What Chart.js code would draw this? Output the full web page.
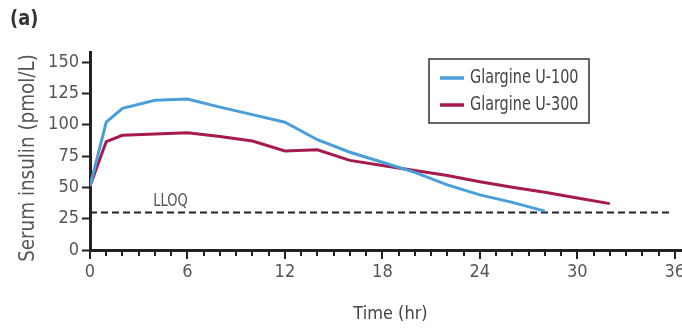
<!DOCTYPE html>
<html lang="en">
<head>
  <meta charset="UTF-8" />
  <title>Serum insulin</title>
  <style>
    body { margin: 0; background: #fff; overflow: hidden; }
  </style>
</head>
<body>
  <canvas id="chart" width="700" height="332"></canvas>

  <script src="https://cdn.jsdelivr.net/npm/chart.js"></script>
  <script>
    // data
    const u100Hours  = [0, 1, 2, 4, 6, 8, 10, 12, 14, 16, 18, 20, 22, 24, 26, 28];
    const u100Values = [51, 102, 113, 119.5, 120.5, 114, 108, 102, 88, 78, 70, 62, 52, 44, 38, 31];
    const u300Hours  = [0, 1, 2, 4, 6, 8, 10, 12, 14, 16, 18, 20, 22, 24, 26, 28, 30, 32];
    const u300Values = [51, 86.5, 91.5, 92.5, 93.5, 90.5, 87, 79, 80, 71.5, 67.5, 63.5, 59.5, 54.5, 50, 46, 41.5, 37];
    const lloqHours  = [0, 35.7];
    const lloqValue  = 30;
    const xTicks = [0, 6, 12, 18, 24, 30, 36];
    const yTicks = [0, 25, 50, 75, 100, 125, 150];

    const FONT = "'Liberation Sans Narrow', 'DejaVu Sans Condensed', sans-serif";
    Chart.defaults.font.family = FONT;
    Chart.defaults.color = '#555';

    const toPoints = (xs, ys) => xs.map((x, i) => ({ x: x, y: ys[i] }));

    // text squeezed sideways, to get closer to the narrow face of the figure
    function narrowText(ctx, text, x, y, squeeze) {
      ctx.save();
      ctx.translate(x, y);
      ctx.scale(squeeze, 1);
      ctx.fillText(text, 0, 0);
      ctx.restore();
    }

    // minor / major tick marks under the time axis
    const timeTicks = {
      id: 'timeTicks',
      afterDraw(chart) {
        const ctx = chart.ctx;
        const xs = chart.scales.x;
        const y0 = chart.chartArea.bottom;
        ctx.save();
        ctx.strokeStyle = '#222';
        ctx.lineWidth = 2;
        for (let h = 0; h <= 36; h++) {
          const px = Math.round(xs.getPixelForValue(h));
          const len = h % 6 === 0 ? 9 : 6;
          ctx.beginPath();
          ctx.moveTo(px, y0);
          ctx.lineTo(px, y0 + len);
          ctx.stroke();
        }
        ctx.restore();
      }
    };

    // panel letter, y title, LLOQ label and boxed legend
    const extras = {
      id: 'extras',
      afterDraw(chart) {
        const ctx = chart.ctx;
        const xs = chart.scales.x, ys = chart.scales.y;
        ctx.save();
        ctx.fillStyle = '#333';
        ctx.font = 'bold 22px ' + FONT;
        ctx.textBaseline = 'top';
        narrowText(ctx, '(a)', 10, 8, 0.9);

        // y axis title
        ctx.save();
        ctx.translate(29, 158);
        ctx.rotate(-Math.PI / 2);
        ctx.font = '21px ' + FONT;
        ctx.fillStyle = '#555';
        ctx.textAlign = 'center';
        ctx.textBaseline = 'middle';
        narrowText(ctx, 'Serum insulin (pmol/L)', 0, 0, 0.97);
        ctx.restore();

        ctx.fillStyle = '#555';
        ctx.font = '17px ' + FONT;
        ctx.textBaseline = 'bottom';
        narrowText(ctx, 'LLOQ', xs.getPixelForValue(3.9), ys.getPixelForValue(lloqValue) - 2, 0.85);

        // legend box
        const bx = 429, by = 59, bw = 160, bh = 64;
        ctx.strokeStyle = '#333';
        ctx.lineWidth = 1.5;
        ctx.strokeRect(bx, by, bw, bh);
        ctx.font = '20px ' + FONT;
        ctx.textBaseline = 'middle';
        chart.data.datasets.slice(0, 2).forEach((ds, i) => {
          const cy = by + 19 + i * 27;
          ctx.strokeStyle = ds.borderColor;
          ctx.lineWidth = 3.5;
          ctx.beginPath();
          ctx.moveTo(bx + 11, cy);
          ctx.lineTo(bx + 35, cy);
          ctx.stroke();
          ctx.fillStyle = '#444';
          narrowText(ctx, ds.label, bx + 41, cy, 0.8);
        });
        ctx.restore();
      }
    };

    new Chart(document.getElementById('chart'), {
      type: 'line',
      data: {
        datasets: [
          {
            label: 'Glargine U-100',
            data: toPoints(u100Hours, u100Values),
            borderColor: '#4a9fdb',
            borderWidth: 3,
            pointRadius: 0,
            tension: 0
          },
          {
            label: 'Glargine U-300',
            data: toPoints(u300Hours, u300Values),
            borderColor: '#a51b4e',
            borderWidth: 3,
            pointRadius: 0,
            tension: 0
          },
          {
            label: 'LLOQ',
            data: lloqHours.map(h => ({ x: h, y: lloqValue })),
            borderColor: '#222',
            borderWidth: 2,
            borderDash: [7, 4],
            pointRadius: 0
          }
        ]
      },
      options: {
        responsive: false,
        animation: false,
        layout: { padding: { top: 52, left: 0, right: 9, bottom: 0 } },
        plugins: {
          legend: { display: false },
          tooltip: { enabled: false }
        },
        scales: {
          x: {
            type: 'linear',
            min: 0,
            max: 37,
            afterBuildTicks: s => { s.ticks = xTicks.map(v => ({ value: v })); },
            afterFit: s => { s.height = 82; },
            grid: { display: false, drawTicks: false },
            border: { display: true, color: '#222', width: 3 },
            ticks: { padding: 12, font: { size: 18 }, color: '#555', maxRotation: 0 },
            title: {
              display: true,
              text: 'Time (hr)',
              font: { size: 18 },
              color: '#444',
              padding: { top: 0, bottom: 7 }
            }
          },
          y: {
            min: 0,
            max: 158,
            afterBuildTicks: s => { s.ticks = yTicks.map(v => ({ value: v })); },
            afterFit: s => { s.width = 90; },
            grid: {
              drawOnChartArea: false,
              drawTicks: true,
              tickLength: 8,
              tickWidth: 2,
              tickColor: '#222'
            },
            border: { display: true, color: '#222', width: 3 },
            ticks: { padding: 3, font: { size: 18 }, color: '#555' },
            title: { display: false }
          }
        }
      },
      plugins: [timeTicks, extras]
    });
  </script>
</body>
</html>
